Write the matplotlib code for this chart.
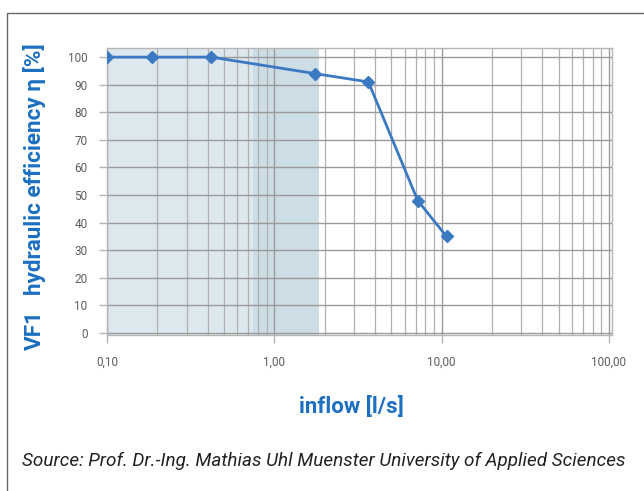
import matplotlib
matplotlib.use("Agg")
import matplotlib.pyplot as plt
from matplotlib.patches import Rectangle
from matplotlib.ticker import FixedLocator, LogLocator, NullFormatter

inflow = [0.10, 0.186, 0.42, 1.76, 3.65, 7.2, 10.7]
efficiency = [100, 100, 100, 94, 91, 48, 35]
x_ticks = [0.1, 1, 10, 100]
x_tick_labels = ["0,10", "1,00", "10,00", "100,00"]
y_ticks = [0, 10, 20, 30, 40, 50, 60, 70, 80, 90, 100]

plt.rcParams['font.family'] = ['Roboto', 'DejaVu Sans']

fig = plt.figure(figsize=(6.44, 4.91), dpi=100)
fig.patch.set_facecolor('white')

# outer frame
fig.patches.append(Rectangle((7/644, -0.01), 1.0, 1 - 13/491 + 0.01, transform=fig.transFigure,
                             fill=False, edgecolor='#666666', linewidth=1.0))

ax = fig.add_axes([107/644, 1 - 335/491, (612 - 107)/644, (335 - 48)/491])
ax.set_xscale('log')
ax.set_xlim(0.1, 104.3)
ax.set_ylim(-0.7, 103.3)

# shaded regions
ax.axvspan(0.1, 1.86, color='#dde8ee', zorder=0, lw=0)
ax.axvspan(0.75, 1.86, color='#cddde6', zorder=0, lw=0)

ax.xaxis.set_major_locator(FixedLocator(x_ticks))
ax.xaxis.set_minor_locator(LogLocator(base=10, subs=range(2, 10)))
ax.xaxis.set_minor_formatter(NullFormatter())
ax.set_xticklabels(x_tick_labels)
ax.set_yticks(y_ticks)

ax.grid(True, which='major', axis='both', color='#9a9a9a', linewidth=1.0, zorder=1)
ax.grid(True, which='minor', axis='x', color='#b0b0b0', linewidth=0.9, zorder=1)
ax.set_axisbelow(True)

for s in ax.spines.values():
    s.set_color('#b5b5b5')
    s.set_linewidth(1.0)

ax.tick_params(axis='both', which='minor', length=0)
ax.tick_params(axis='both', which='major', length=6, color='#b5b5b5', width=1.0,
               labelsize=8.5, labelcolor='#5e5e5e')
ax.tick_params(axis='x', pad=9)
ax.tick_params(axis='y', pad=8)

ax.plot(inflow, efficiency, color='#3b79c3', linewidth=2.0, marker='D', markersize=6.5,
        markerfacecolor='#3b79c3', markeredgecolor='#3b79c3', zorder=3)

blue = '#1c6fc1'
fig.text(35/644, 1 - 169/491, 'hydraulic efficiency η [%]', rotation=90, ha='center', va='center',
         color=blue, fontsize=16.2, fontweight='semibold')
fig.text(35/644, 1 - 330/491, 'VF1', rotation=90, ha='center', va='center',
         color=blue, fontsize=16.2, fontweight='semibold')
fig.text(351/644, 1 - 407/491, 'inflow [l/s]', ha='center', va='center',
         color=blue, fontsize=16, fontweight='semibold')
fig.text(22/644, 1 - 461/491, 'Source: Prof. Dr.-Ing. Mathias Uhl Muenster University of Applied Sciences',
         ha='left', va='center', color='#222222', fontsize=13.6, style='italic')

fig.savefig('out.png', dpi=100)
